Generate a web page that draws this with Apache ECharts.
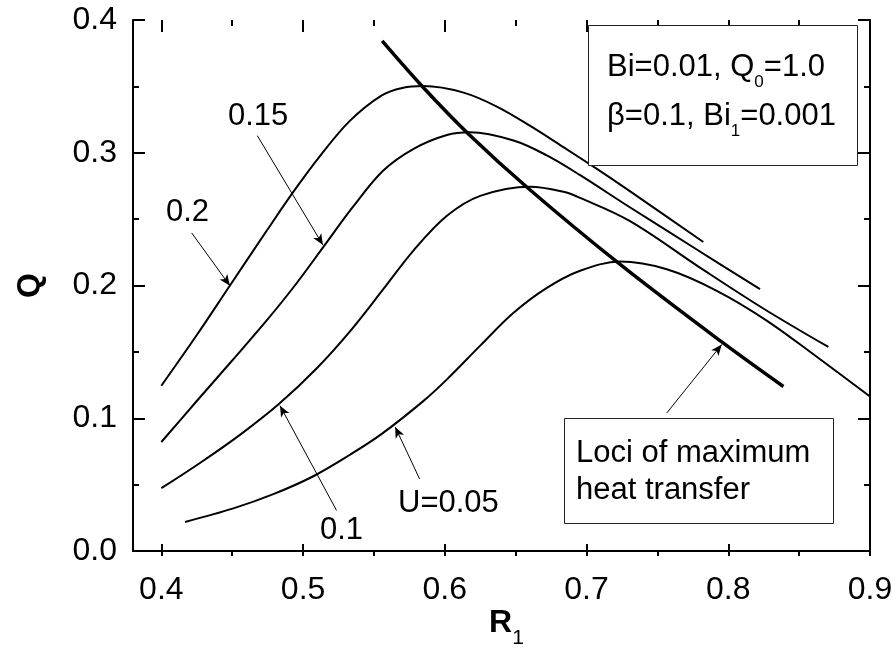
<!DOCTYPE html>
<html>
<head>
<meta charset="utf-8">
<script src="https://cdn.jsdelivr.net/npm/echarts@6/dist/echarts.min.js"></script>
<style>
html,body{margin:0;padding:0;background:#fff;}
#chart{width:896px;height:654px;}
</style>
</head>
<body>
<div id="chart"></div>
<script>
const FONT = "'Liberation Sans', Arial, Helvetica, sans-serif";

// ---- axis ticks ----
const xTickValues = [0.4, 0.5, 0.6, 0.7, 0.8, 0.9];
const xTickLabels = ['0.4', '0.5', '0.6', '0.7', '0.8', '0.9'];
const yTickValues = [0.0, 0.1, 0.2, 0.3, 0.4];
const yTickLabels = ['0.0', '0.1', '0.2', '0.3', '0.4'];

// ---- curves Q(R1) for several U ----
const curveU020 = [[0.400,0.1245],[0.4249,0.1625],[0.4484,0.2000],[0.4743,0.2412],[0.4931,0.2705],[0.5119,0.2975],[0.533,0.3240],[0.5555,0.3432],[0.570,0.3488],[0.585,0.3502],[0.6132,0.3453],[0.6367,0.3348],[0.660,0.3204],[0.6837,0.3042],[0.7073,0.2878],[0.729,0.2722],[0.7824,0.2328]];
const curveU015 = [[0.400,0.0821],[0.425,0.1130],[0.450,0.1435],[0.4742,0.1735],[0.4942,0.2000],[0.515,0.2300],[0.535,0.2590],[0.5566,0.2866],[0.578,0.3030],[0.6015,0.3134],[0.6179,0.3154],[0.6485,0.3092],[0.672,0.2980],[0.6955,0.2831],[0.7272,0.2612],[0.775,0.2290],[0.8224,0.1972]];
const curveU010 = [[0.400,0.0473],[0.4275,0.0665],[0.4557,0.0877],[0.4827,0.1105],[0.5095,0.1375],[0.5331,0.1655],[0.5566,0.1972],[0.578,0.2265],[0.6015,0.2525],[0.625,0.2675],[0.6602,0.2744],[0.6837,0.2706],[0.6955,0.2660],[0.7307,0.2485],[0.780,0.2135],[0.825,0.1825],[0.8706,0.1537]];
const curveU005 = [[0.4167,0.0219],[0.4508,0.0321],[0.479,0.0428],[0.5072,0.0563],[0.5331,0.0725],[0.5555,0.0882],[0.585,0.1131],[0.6015,0.1293],[0.625,0.1547],[0.6485,0.1794],[0.672,0.1982],[0.6955,0.2111],[0.7237,0.2180],[0.7566,0.2122],[0.7919,0.1960],[0.8271,0.1736],[0.8624,0.1463],[0.900,0.1164]];
const lociMax = [[0.5558,0.3843],[0.585,0.3490],[0.6167,0.3142],[0.659,0.2731],[0.7237,0.2159],[0.7954,0.1575],[0.8389,0.1239]];

// ---- annotation arrows (data units: from label to curve) ----
const arrowFrom = [[0.4214,0.2396],[0.4677,0.3129],[0.5236,0.0306],[0.5822,0.0543],[0.7566,0.1040]];
const arrowTo   = [[0.4484,0.1998],[0.5140,0.2305],[0.4837,0.1095],[0.5650,0.0935],[0.7954,0.1555]];

const X_MIN = 0.38, X_MAX = 0.9;
const GRID_LEFT = 133, GRID_TOP = 20, GRID_W = 737, GRID_H = 536;
const tickGridLeft = GRID_LEFT + (xTickValues[0] - X_MIN) / (X_MAX - X_MIN) * GRID_W;

function labelFor(values, labels) {
  return function (v) {
    const i = values.findIndex(t => Math.abs(t - v) < 1e-6);
    return i >= 0 ? labels[i] : '';
  };
}

const black = '#000';
const tickAxisCommon = {
  type: 'value',
  axisLine: { show: false },
  axisTick: { show: true, inside: true, length: 12, lineStyle: { color: black, width: 2 } },
  minorTick: { show: true, splitNumber: 2, length: 6, lineStyle: { color: black, width: 2 } },
  splitLine: { show: false },
  minorSplitLine: { show: false }
};

const chart = echarts.init(document.getElementById('chart'), null, { renderer: 'canvas' });

function curveSeries(name, data, width) {
  return {
    name: name, type: 'line', xAxisIndex: 0, yAxisIndex: 0,
    data: data, showSymbol: false, symbol: 'none',
    smooth: 0.35,
    lineStyle: { color: black, width: width },
    silent: true, z: 3
  };
}

const lociSeries = curveSeries('Loci of maximum heat transfer', lociMax, 3.5);
lociSeries.markLine = {
  silent: true,
  symbol: ['none', 'arrow'],
  symbolSize: [7, 11],
  label: { show: false },
  lineStyle: { color: black, width: 1, type: 'solid' },
  emphasis: { disabled: true },
  data: arrowFrom.map((f, i) => [{ coord: f }, { coord: arrowTo[i] }])
};

const option = {
  animation: false,
  backgroundColor: '#fff',
  textStyle: { fontFamily: FONT },
  grid: [
    { left: GRID_LEFT, top: GRID_TOP, width: GRID_W, height: GRID_H },
    { left: tickGridLeft, top: GRID_TOP, width: GRID_LEFT + GRID_W - tickGridLeft, height: GRID_H }
  ],
  xAxis: [
    {
      gridIndex: 0, type: 'value', min: X_MIN, max: X_MAX, position: 'bottom',
      axisLine: { show: true, lineStyle: { color: black, width: 2 } },
      axisTick: { show: false }, axisLabel: { show: false }, splitLine: { show: false },
      name: '{r|R}{s|1}', nameLocation: 'middle', nameGap: 56,
      nameTextStyle: {
        padding: [0, 0, 0, 10],
        rich: {
          r: { fontFamily: FONT, fontSize: 32, fontWeight: 'bold', color: black, lineHeight: 32, verticalAlign: 'top' },
          s: { fontFamily: FONT, fontSize: 21, color: black, lineHeight: 42, verticalAlign: 'bottom' }
        }
      }
    },
    {
      gridIndex: 0, type: 'value', min: X_MIN, max: X_MAX, position: 'top',
      axisLine: { show: true, lineStyle: { color: black, width: 2 } },
      axisTick: { show: false }, axisLabel: { show: false }, splitLine: { show: false }
    },
    Object.assign({}, tickAxisCommon, {
      gridIndex: 1, position: 'bottom', min: xTickValues[0], max: xTickValues[xTickValues.length - 1], interval: 0.1,
      axisLabel: { show: true, margin: 18, fontSize: 32, fontFamily: FONT, color: black, formatter: labelFor(xTickValues, xTickLabels) }
    }),
    Object.assign({}, tickAxisCommon, {
      gridIndex: 1, position: 'top', min: xTickValues[0], max: xTickValues[xTickValues.length - 1], interval: 0.1,
      axisLabel: { show: false }
    })
  ],
  yAxis: [
    Object.assign({}, tickAxisCommon, {
      gridIndex: 0, position: 'left', min: yTickValues[0], max: yTickValues[yTickValues.length - 1], interval: 0.1,
      axisLine: { show: true, lineStyle: { color: black, width: 2 } },
      axisLabel: { show: true, margin: 16, fontSize: 32, fontFamily: FONT, color: black, formatter: labelFor(yTickValues, yTickLabels) },
      name: 'Q', nameLocation: 'middle', nameGap: 87,
      nameTextStyle: { fontFamily: FONT, fontSize: 32, fontWeight: 'bold', color: black }
    }),
    Object.assign({}, tickAxisCommon, {
      gridIndex: 0, position: 'right', min: yTickValues[0], max: yTickValues[yTickValues.length - 1], interval: 0.1,
      axisLine: { show: true, lineStyle: { color: black, width: 2 } },
      axisLabel: { show: false }
    }),
    { gridIndex: 1, type: 'value', show: false, min: 0, max: 0.4 }
  ],
  series: [
    curveSeries('U=0.2', curveU020, 2),
    curveSeries('U=0.15', curveU015, 2),
    curveSeries('U=0.1', curveU010, 2),
    curveSeries('U=0.05', curveU005, 2),
    lociSeries
  ],
  graphic: [
    { type: 'text', z: 50, style: { x: 166, y: 212, text: '0.2', font: '31px ' + FONT, fill: black, align: 'left', verticalAlign: 'middle' } },
    { type: 'text', z: 50, style: { x: 228, y: 116, text: '0.15', font: '31px ' + FONT, fill: black, align: 'left', verticalAlign: 'middle' } },
    { type: 'text', z: 50, style: { x: 320, y: 530, text: '0.1', font: '31px ' + FONT, fill: black, align: 'left', verticalAlign: 'middle' } },
    { type: 'text', z: 50, style: { x: 398, y: 503, text: 'U=0.05', font: '31px ' + FONT, fill: black, align: 'left', verticalAlign: 'middle' } },
    { type: 'rect', z: 60, shape: { x: 588.5, y: 25.5, width: 269, height: 140 }, style: { fill: '#fff', stroke: '#222', lineWidth: 1 } },
    { type: 'text', z: 61, style: {
        x: 607, y: 52, align: 'left', verticalAlign: 'top',
        text: '{n|Bi=0.01, Q}{s|0}{n|=1.0}',
        rich: {
          n: { fontFamily: FONT, fontSize: 31, lineHeight: 31, verticalAlign: 'top', fill: black },
          s: { fontFamily: FONT, fontSize: 17, lineHeight: 39, verticalAlign: 'bottom', fill: black }
        }
    } },
    { type: 'text', z: 61, style: {
        x: 607, y: 100.5, align: 'left', verticalAlign: 'top',
        text: '{n|β=0.1, Bi}{s|1}{n|=0.001}',
        rich: {
          n: { fontFamily: FONT, fontSize: 31, lineHeight: 31, verticalAlign: 'top', fill: black },
          s: { fontFamily: FONT, fontSize: 17, lineHeight: 39, verticalAlign: 'bottom', fill: black }
        }
    } },
    { type: 'rect', z: 60, shape: { x: 564.5, y: 418.5, width: 269, height: 105 }, style: { fill: '#fff', stroke: '#222', lineWidth: 1 } },
    { type: 'text', z: 61, style: { x: 576, y: 453, text: 'Loci of maximum', font: '31px ' + FONT, fill: black, align: 'left', verticalAlign: 'middle' } },
    { type: 'text', z: 61, style: { x: 576, y: 490.5, text: 'heat transfer', font: '31px ' + FONT, fill: black, align: 'left', verticalAlign: 'middle' } }
  ]
};

chart.setOption(option);
</script>
</body>
</html>
